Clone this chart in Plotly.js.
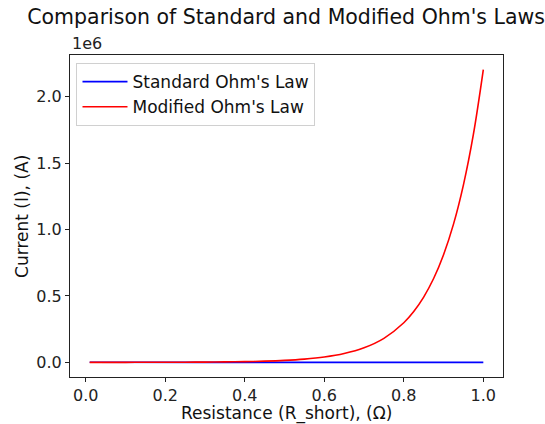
<!DOCTYPE html>
<html>
<head>
<meta charset="utf-8">
<script src="https://cdn.plot.ly/plotly-3.0.1.min.js"></script>
<style>html,body{margin:0;padding:0;background:#fff;}#chart{width:545px;height:424px;}</style>
</head>
<body>
<div id="chart"></div>
<script>
// Resistance values (Ω)
var resistance = [0.01, 0.05, 0.1, 0.15, 0.2, 0.25, 0.3, 0.35, 0.4, 0.45, 0.5, 0.55, 0.6, 0.65, 0.7, 0.75, 0.8, 0.825, 0.85, 0.875, 0.9, 0.925, 0.95, 0.975, 1.0];
// Standard Ohm's law current (A) - near zero on this scale
var standardCurrent = [1000, 200, 100, 67, 50, 40, 33, 29, 25, 22, 20, 18, 17, 15, 14, 13, 12, 12, 12, 11, 11, 11, 11, 10, 10];
// Modified Ohm's law current (A)
var modifiedCurrent = [110, 165, 272, 448, 739, 1218, 2009, 3312, 5460, 9002, 14841, 24469, 40343, 66514, 109663, 180804, 298096, 382700, 491476, 631000, 810308, 1040000, 1335973, 1715000, 2202647];
// Y tick labels (scaled by 1e6)
var yTickVals = [0, 500000, 1000000, 1500000, 2000000];
var yTickText = ["0.0", "0.5", "1.0", "1.5", "2.0"];
var xTickVals = [0, 0.2, 0.4, 0.6, 0.8, 1.0];
var xTickText = ["0.0", "0.2", "0.4", "0.6", "0.8", "1.0"];

var font = "DejaVu Sans, sans-serif";
var traces = [
  {x: resistance, y: standardCurrent, type: "scatter", mode: "lines", name: "Standard Ohm's Law",
   line: {color: "blue", width: 1.6}},
  {x: resistance, y: modifiedCurrent, type: "scatter", mode: "lines", name: "Modified Ohm's Law",
   line: {color: "red", width: 1.6, shape: "spline"}}
];
var layout = {
  width: 545, height: 424,
  margin: {l: 70, r: 42, t: 55, b: 47},
  paper_bgcolor: "#fff", plot_bgcolor: "#fff",
  font: {family: font, size: 17, color: "#222"},
  title: {text: "Comparison of Standard and Modified Ohm's Laws", font: {family: font, size: 20.5, color: "#111"},
          x: 0.525, xanchor: "center", y: 0.978, yanchor: "top"},
  xaxis: {range: [-0.0395, 1.0495], tickvals: xTickVals, ticktext: xTickText,
          showgrid: false, zeroline: false, showline: true, linecolor: "#222", linewidth: 1, mirror: true,
          ticks: "outside", ticklen: 4, tickcolor: "#222", tickfont: {family: font, size: 16, color: "#222"}},
  yaxis: {range: [-110132, 2312779], tickvals: yTickVals, ticktext: yTickText,
          showgrid: false, zeroline: false, showline: true, linecolor: "#222", linewidth: 1, mirror: true,
          ticks: "outside", ticklen: 4, tickcolor: "#222", tickfont: {family: font, size: 16, color: "#222"}},
  showlegend: true,
  legend: {x: 0.015, y: 0.975, xanchor: "left", yanchor: "top", bgcolor: "rgba(255,255,255,0.8)",
           bordercolor: "#d0d0d0", borderwidth: 1, itemwidth: 45, font: {family: font, size: 17, color: "#111"}},
  annotations: [
    {text: "1e6", xref: "paper", yref: "paper", x: 0, y: 1, xanchor: "left", yanchor: "bottom",
     showarrow: false, font: {family: font, size: 16, color: "#222"}},
    {text: "Resistance (R_short), (Ω)", xref: "paper", yref: "paper", x: 0.5, y: -0.113,
     xanchor: "center", yanchor: "middle", showarrow: false, borderpad: 0, font: {family: font, size: 17, color: "#111"}},
    {text: "Current (I), (A)", xref: "paper", yref: "paper", x: -0.111, y: 0.5, textangle: -90,
     xanchor: "center", yanchor: "middle", showarrow: false, font: {family: font, size: 17, color: "#111"}}
  ]
};
Plotly.newPlot("chart", traces, layout, {displayModeBar: false, staticPlot: true});
</script>
</body>
</html>
